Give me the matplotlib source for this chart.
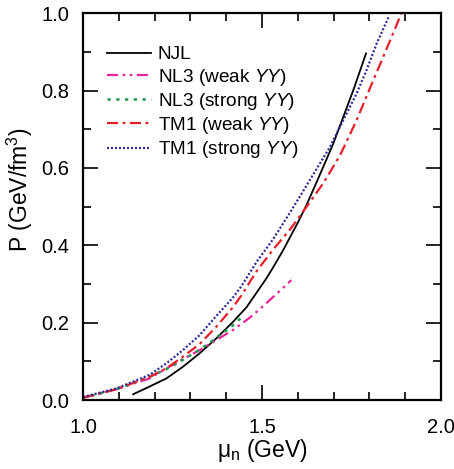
import matplotlib
matplotlib.use("Agg")
import matplotlib.pyplot as plt
from matplotlib.ticker import MultipleLocator

plt.rcParams['font.family'] = ['Liberation Sans', 'DejaVu Sans']
plt.rcParams['mathtext.fontset'] = 'custom'
plt.rcParams['mathtext.rm'] = 'Liberation Sans'
plt.rcParams['mathtext.it'] = 'Liberation Sans:italic'

njl_x = [1.14, 1.186, 1.233, 1.279, 1.326, 1.372, 1.419, 1.457, 1.512, 1.532, 1.559, 1.578, 1.601,
         1.625, 1.657, 1.699, 1.727, 1.755, 1.791]
njl_y = [0.015, 0.035, 0.056, 0.086, 0.121, 0.159, 0.202, 0.240, 0.314, 0.344, 0.387, 0.42, 0.46,
         0.505, 0.572, 0.662, 0.731, 0.800, 0.896]

nl3w_x = [1.0, 1.093, 1.186, 1.233, 1.279, 1.326, 1.372, 1.419, 1.466, 1.494, 1.512, 1.545, 1.582]
nl3w_y = [0.006, 0.028, 0.056, 0.082, 0.106, 0.129, 0.155, 0.181, 0.213, 0.235, 0.25, 0.278, 0.31]

nl3s_x = [1.0, 1.093, 1.186, 1.233, 1.25, 1.317, 1.349, 1.382, 1.414, 1.447]
nl3s_y = [0.006, 0.028, 0.06, 0.08, 0.088, 0.125, 0.145, 0.168, 0.189, 0.217]

tm1w_x = [1.0, 1.093, 1.186, 1.233, 1.279, 1.326, 1.372, 1.419, 1.443, 1.485, 1.532, 1.578, 1.625,
          1.671, 1.718, 1.764, 1.811, 1.858, 1.89]
tm1w_y = [0.006, 0.028, 0.060, 0.082, 0.112, 0.145, 0.189, 0.240, 0.271, 0.333, 0.39, 0.44, 0.50,
          0.56, 0.632, 0.722, 0.826, 0.929, 1.0]

tm1s_x = [1.0, 1.093, 1.186, 1.233, 1.279, 1.326, 1.372, 1.419, 1.443, 1.485, 1.532, 1.578, 1.625,
          1.69, 1.727, 1.764, 1.792, 1.82, 1.856]
tm1s_y = [0.008, 0.030, 0.065, 0.095, 0.129, 0.168, 0.217, 0.265, 0.295, 0.357, 0.417, 0.484, 0.555,
          0.654, 0.723, 0.791, 0.852, 0.920, 0.994]

fig = plt.figure(figsize=(4.54, 4.69), dpi=100)
ax = fig.add_axes([0.183, 0.147, 0.788, 0.825])

ax.plot(njl_x, njl_y, color='black', lw=1.3, ls='-', label='NJL')
ax.plot(nl3w_x, nl3w_y, color='#e8259a', lw=1.6, ls=(0, (5, 2, 1.2, 2, 1.2, 2)),
        label='NL3 (weak $\\mathit{YY}$)')
ax.plot(nl3s_x, nl3s_y, color='#1a9a50', lw=1.8, ls=(0, (1.3, 2.2)),
        label='NL3 (strong $\\mathit{YY}$)')
ax.plot(tm1w_x, tm1w_y, color='#e8202a', lw=1.6, ls=(0, (5, 2, 1.3, 2)),
        label='TM1 (weak $\\mathit{YY}$)')
ax.plot(tm1s_x, tm1s_y, color='#2a2a9a', lw=1.6, ls=(0, (0.9, 0.9)),
        label='TM1 (strong $\\mathit{YY}$)')

ax.set_xlim(1.0, 2.0)
ax.set_ylim(0.0, 1.0)
ax.xaxis.set_minor_locator(MultipleLocator(0.1))
ax.yaxis.set_minor_locator(MultipleLocator(0.1))
ax.set_xticks([1.0, 1.5, 2.0])
ax.set_xticklabels(['1.0', '1.5', '2.0'])
ax.set_yticks([0.0, 0.2, 0.4, 0.6, 0.8, 1.0])
ax.set_yticklabels(['0.0', '0.2', '0.4', '0.6', '0.8', '1.0'])
ax.tick_params(which='both', direction='in', top=True, right=True, labelsize=14.5, width=1.2)
ax.tick_params(which='major', length=10.5)
ax.tick_params(which='minor', length=5.5)
ax.tick_params(axis='x', which='major', pad=13)
ax.tick_params(axis='y', which='major', pad=10)
for s in ax.spines.values():
    s.set_linewidth(1.6)

ax.set_xlabel('μ$_\\mathregular{n}$ (GeV)', fontsize=16.5, labelpad=0)
ax.set_ylabel('P (GeV/fm$^\\mathregular{3}$)', fontsize=16.5)
ax.yaxis.set_label_coords(-0.135, 0.545)

leg = ax.legend(loc='upper left', bbox_to_anchor=(0.068, 0.915), frameon=False, fontsize=13.7,
                handlelength=2.3, handletextpad=0.35, labelspacing=0.17, borderaxespad=0,
                borderpad=0)

fig.savefig('out.png', dpi=100)
